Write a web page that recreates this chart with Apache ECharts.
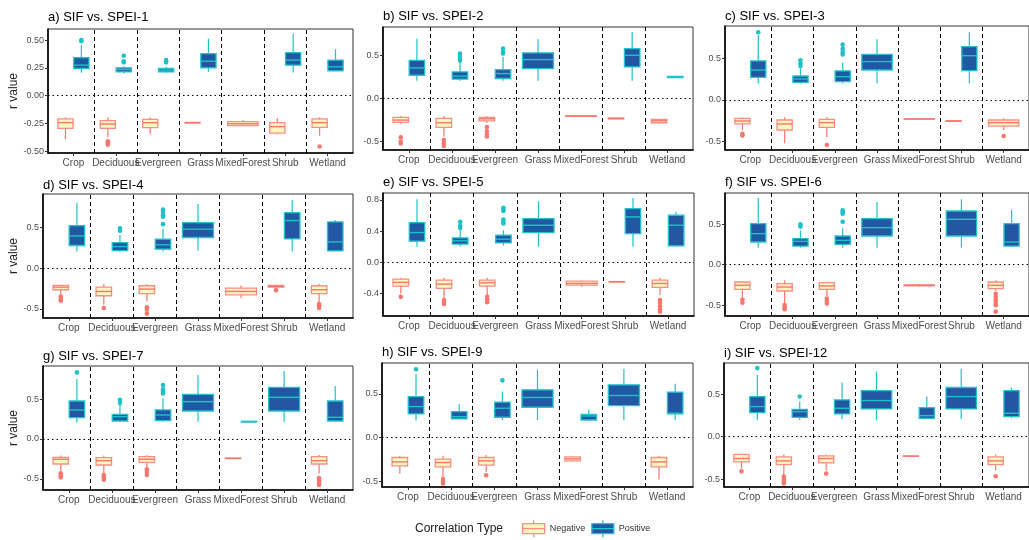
<!DOCTYPE html>
<html><head><meta charset="utf-8">
<script src="https://cdn.jsdelivr.net/npm/echarts@6/dist/echarts.min.js"></script>
<style>html,body{margin:0;padding:0;background:#fff}#c{width:1029px;height:540px}</style>
</head><body><div id="c"></div><script>
// ---------------- DATA ----------------
const categories = ['Crop','Deciduous','Evergreen','Grass','MixedForest','Shrub','Wetland'];
const panelTitles = ['a) SIF vs. SPEI-1','b) SIF vs. SPEI-2','c) SIF vs. SPEI-3','d) SIF vs. SPEI-4','e) SIF vs. SPEI-5','f) SIF vs. SPEI-6','g) SIF vs. SPEI-7','h) SIF vs. SPEI-9','i) SIF vs. SPEI-12'];
const groupNames = ['Negative','Positive'];
const yTickValues = [
  [-0.5,-0.25,0,0.25,0.5],[-0.5,0,0.5],[-0.5,0,0.5],
  [-0.5,0,0.5],[-0.4,0,0.4,0.8],[-0.5,0,0.5],
  [-0.5,0,0.5],[-0.5,0,0.5],[-0.5,0,0.5]
];
const yTickDecimals = [2,1,1,1,1,1,1,1,1];
const yLimits = [
  [-0.515,0.6],[-0.596,0.827],[-0.605,0.895],
  [-0.612,0.91],[-0.685,0.889],[-0.634,0.885],
  [-0.638,0.913],[-0.561,0.851],[-0.593,0.87]
];
// box stats per category: [lowWhisker, Q1, median, Q3, highWhisker]
const spei1Neg = [[-0.391,-0.293,-0.242,-0.209,-0.194],[-0.373,-0.293,-0.254,-0.224,-0.194],[-0.346,-0.287,-0.242,-0.212,-0.194],[-0.245,-0.245,-0.242,-0.24,-0.24],[-0.272,-0.268,-0.252,-0.232,-0.218],[-0.352,-0.337,-0.278,-0.242,-0.203],[-0.361,-0.284,-0.242,-0.209,-0.194]];
const spei1Pos = [[0.206,0.245,0.275,0.343,0.454],[0.2,0.215,0.236,0.251,0.265],[0.206,0.215,0.23,0.245,0.26],[0.215,0.251,0.31,0.379,0.514],null,[0.209,0.275,0.32,0.388,0.559],[0.224,0.224,0.26,0.32,0.418]];
const spei1NegOut = [[],[-0.41,-0.43,-0.44],[],[],[],[],[-0.457]];
const spei1PosOut = [[0.49,0.5],[0.36,0.31,0.3],[0.32,0.31,0.3],[],[],[],[]];

const spei2Neg = [[-0.296,-0.277,-0.25,-0.219,-0.204],[-0.442,-0.335,-0.281,-0.231,-0.2],[-0.28,-0.258,-0.235,-0.219,-0.204],null,[-0.21,-0.207,-0.204,-0.202,-0.2],[-0.24,-0.236,-0.231,-0.227,-0.224],[-0.296,-0.281,-0.258,-0.242,-0.236]];
const spei2Pos = [[0.204,0.269,0.354,0.442,0.692],[0.204,0.223,0.258,0.308,0.423],[0.204,0.231,0.288,0.335,0.481],[0.204,0.346,0.45,0.527,0.685],null,[0.204,0.365,0.5,0.577,0.769],[0.235,0.242,0.25,0.256,0.26]];
const spei2NegOut = [[-0.45,-0.5,-0.52],[-0.48,-0.52,-0.55],[-0.33,-0.38,-0.42,-0.44],[],[],[],[]];
const spei2PosOut = [[],[0.52,0.49,0.46,0.44],[0.577,0.54,0.52],[],[],[],[]];

const spei3Neg = [[-0.363,-0.29,-0.254,-0.222,-0.21],[-0.524,-0.363,-0.29,-0.242,-0.21],[-0.452,-0.331,-0.274,-0.234,-0.21],null,[-0.234,-0.232,-0.23,-0.228,-0.226],[-0.262,-0.258,-0.254,-0.25,-0.246],[-0.363,-0.315,-0.274,-0.242,-0.222]];
const spei3Pos = [[0.2,0.274,0.363,0.472,0.786],[0.2,0.214,0.254,0.29,0.383],[0.2,0.222,0.282,0.351,0.452],[0.2,0.363,0.464,0.552,0.734],null,[0.2,0.355,0.536,0.645,0.819],null];
const spei3NegOut = [[-0.41,-0.43],[],[-0.544],[],[],[],[-0.435]];
const spei3PosOut = [[0.82],[0.48,0.44,0.41],[0.67,0.62,0.58,0.55],[],[],[],[]];

const spei4Neg = [[-0.327,-0.265,-0.233,-0.212,-0.204],[-0.449,-0.339,-0.286,-0.233,-0.196],[-0.408,-0.314,-0.257,-0.216,-0.196],null,[-0.367,-0.327,-0.286,-0.245,-0.212],[-0.24,-0.233,-0.224,-0.212,-0.208],[-0.43,-0.314,-0.265,-0.216,-0.196]];
const spei4Pos = [[0.204,0.278,0.396,0.522,0.804],[0.204,0.216,0.265,0.314,0.408],[0.204,0.233,0.286,0.355,0.482],[0.216,0.376,0.478,0.559,0.788],null,[0.204,0.359,0.584,0.682,0.837],[0.21,0.212,0.322,0.567,0.592]];
const spei4NegOut = [[-0.35,-0.38,-0.4],[-0.49],[-0.48,-0.51,-0.56],[],[],[-0.27],[-0.44,-0.46,-0.49]];
const spei4PosOut = [[],[0.49,0.46],[0.72,0.69,0.65,0.63,0.54],[],[],[],[]];

const spei5Neg = [[-0.396,-0.302,-0.255,-0.213,-0.196],[-0.46,-0.332,-0.277,-0.226,-0.196],[-0.417,-0.302,-0.26,-0.226,-0.196],null,[-0.31,-0.289,-0.268,-0.238,-0.234],[-0.252,-0.25,-0.247,-0.244,-0.242],[-0.417,-0.319,-0.268,-0.226,-0.196]];
const spei5Pos = [[0.2,0.272,0.383,0.511,0.809],[0.2,0.234,0.277,0.315,0.413],[0.217,0.251,0.298,0.349,0.413],[0.2,0.383,0.477,0.562,0.783],null,[0.2,0.37,0.583,0.689,0.826],[0.2,0.213,0.477,0.604,0.647]];
const spei5NegOut = [[-0.44],[-0.48,-0.51,-0.53],[-0.44,-0.47,-0.51],[],[],[],[-0.48,-0.52,-0.56,-0.6,-0.63]];
const spei5PosOut = [[],[0.52,0.47,0.44],[0.7,0.68,0.66,0.55,0.52,0.5],[],[],[],[]];

const spei6Neg = [[-0.4,-0.305,-0.255,-0.214,-0.206],[-0.481,-0.325,-0.276,-0.235,-0.193],[-0.391,-0.305,-0.263,-0.222,-0.206],null,[-0.27,-0.262,-0.255,-0.25,-0.24],null,[-0.325,-0.296,-0.255,-0.214,-0.193]];
const spei6Pos = [[0.21,0.28,0.383,0.506,0.823],[0.21,0.23,0.288,0.321,0.424],[0.21,0.251,0.3,0.354,0.453],[0.21,0.354,0.457,0.568,0.774],null,[0.21,0.354,0.56,0.663,0.807],[0.218,0.23,0.28,0.506,0.679]];
const spei6NegOut = [[-0.43,-0.47],[-0.5,-0.53,-0.55],[-0.42,-0.45,-0.48],[],[],[],[-0.36,-0.4,-0.44,-0.47,-0.5,-0.58]];
const spei6PosOut = [[],[0.5,0.47],[0.67,0.65,0.63,0.53],[],[],[],[]];

const spei7Neg = [[-0.408,-0.313,-0.254,-0.229,-0.208],[-0.429,-0.325,-0.271,-0.233,-0.208],[-0.367,-0.292,-0.254,-0.221,-0.2],null,[-0.248,-0.245,-0.242,-0.239,-0.236],null,[-0.429,-0.313,-0.271,-0.221,-0.2]];
const spei7Pos = [[0.204,0.267,0.363,0.475,0.75],[0.217,0.225,0.279,0.308,0.425],[0.217,0.229,0.3,0.363,0.508],[0.217,0.35,0.467,0.558,0.8],[0.21,0.213,0.217,0.221,0.224],[0.217,0.35,0.521,0.646,0.85],[0.217,0.225,0.271,0.475,0.663]];
const spei7NegOut = [[-0.43,-0.46,-0.48],[-0.45,-0.48,-0.51],[-0.38,-0.41,-0.45],[],[],[],[-0.49,-0.52,-0.55,-0.575]];
const spei7PosOut = [[0.833],[0.49,0.45],[0.675,0.62,0.6,0.57],[],[],[],[]];

const spei9Neg = [[-0.408,-0.321,-0.275,-0.225,-0.206],[-0.447,-0.332,-0.282,-0.244,-0.206],[-0.389,-0.313,-0.263,-0.225,-0.198],null,[-0.275,-0.263,-0.24,-0.218,-0.212],null,[-0.477,-0.332,-0.275,-0.225,-0.206]];
const spei9Pos = [[0.195,0.271,0.355,0.469,0.725],[0.214,0.214,0.24,0.298,0.385],[0.202,0.233,0.336,0.405,0.527],[0.202,0.347,0.458,0.546,0.775],[0.202,0.202,0.248,0.267,0.324],[0.202,0.366,0.481,0.603,0.786],[0.202,0.271,0.28,0.519,0.615]];
const spei9NegOut = [[],[-0.47,-0.5,-0.52],[-0.427],[],[],[],[]];
const spei9PosOut = [[0.78],[],[0.653],[],[],[],[]];

const spei12Neg = [[-0.375,-0.296,-0.257,-0.209,-0.198],[-0.455,-0.328,-0.285,-0.237,-0.209],[-0.395,-0.308,-0.257,-0.225,-0.209],null,[-0.232,-0.231,-0.229,-0.227,-0.226],null,[-0.395,-0.328,-0.285,-0.237,-0.209]];
const spei12Pos = [[0.198,0.285,0.356,0.474,0.731],[0.198,0.229,0.296,0.324,0.415],[0.209,0.269,0.336,0.435,0.64],[0.198,0.328,0.427,0.545,0.771],[0.209,0.217,0.249,0.344,0.474],[0.209,0.328,0.474,0.581,0.802],[0.217,0.237,0.277,0.545,0.581]];
const spei12NegOut = [[-0.407],[-0.47,-0.5,-0.53,-0.55],[-0.435],[],[],[],[-0.466]];
const spei12PosOut = [[0.81],[0.474],[],[],[],[],[]];

const negStats = [spei1Neg,spei2Neg,spei3Neg,spei4Neg,spei5Neg,spei6Neg,spei7Neg,spei9Neg,spei12Neg];
const posStats = [spei1Pos,spei2Pos,spei3Pos,spei4Pos,spei5Pos,spei6Pos,spei7Pos,spei9Pos,spei12Pos];
const negOuts = [spei1NegOut,spei2NegOut,spei3NegOut,spei4NegOut,spei5NegOut,spei6NegOut,spei7NegOut,spei9NegOut,spei12NegOut];
const posOuts = [spei1PosOut,spei2PosOut,spei3PosOut,spei4PosOut,spei5PosOut,spei6PosOut,spei7PosOut,spei9PosOut,spei12PosOut];

// ---------------- LAYOUT / STYLE ----------------
const gridBoxes = [
  [48,29,305,124],[383,27,310,123],[725,26,310,124],
  [43,194,310,124],[383,193,311,123],[725,193,310,123],
  [43,366,310,124],[382,363,311,124],[724,363,311,124]
];
const titleTops = [11,9.5,10,178.5,176,176,349.5,346,346.5];
const NEG_FILL = '#FFF5C2', NEG_LINE = '#F8766D', NEG_BORDER = '#F98E85';
const POS_FILL = '#2257A4', POS_LINE = '#1CC2C8', POS_BORDER = '#22C4CA';
const FONT = 'Liberation Sans, Arial, sans-serif';

function fmt(v, d){ let s = v.toFixed(d); if (/^-0\.0+$/.test(s)) s = s.slice(1); return s; }

function makeRender(p, g) {
  const other = g === 0 ? posStats[p] : negStats[p];
  const outs = g === 0 ? negOuts[p] : posOuts[p];
  const line = g === 0 ? NEG_LINE : POS_LINE;
  const border = g === 0 ? NEG_BORDER : POS_BORDER;
  const fill = g === 0 ? NEG_FILL : POS_FILL;
  return function (params, api) {
    const ci = api.value(0);
    const dodged = other[ci] != null;
    const cx = dodged ? ci + (g === 0 ? -0.1875 : 0.1875) : ci;
    const hw = dodged ? 0.18 : 0.36;
    const xL = api.coord([cx - hw, 0])[0];
    const xR = api.coord([cx + hw, 0])[0];
    const xc = api.coord([cx, 0])[0];
    const yLo = api.coord([cx, api.value(1)])[1];
    const yQ1 = api.coord([cx, api.value(2)])[1];
    const yMed = api.coord([cx, api.value(3)])[1];
    const yQ3 = api.coord([cx, api.value(4)])[1];
    const yHi = api.coord([cx, api.value(5)])[1];
    const children = [
      {type:'line', shape:{x1:xc,y1:yQ3,x2:xc,y2:yHi}, style:{stroke:line,lineWidth:1.2}},
      {type:'line', shape:{x1:xc,y1:yQ1,x2:xc,y2:yLo}, style:{stroke:line,lineWidth:1.2}},
      {type:'rect', shape:{x:xL,y:yQ3,width:xR-xL,height:Math.max(yQ1-yQ3,0)}, style:{fill:fill,stroke:border,lineWidth:1.3}},
      {type:'line', shape:{x1:xL,y1:yMed,x2:xR,y2:yMed}, style:{stroke:line,lineWidth:1.4}}
    ];
    (outs[ci] || []).forEach(function (v) {
      const pt = api.coord([cx, v]);
      children.push({type:'circle', shape:{cx:pt[0], cy:pt[1], r:2.3}, style:{fill:line}});
    });
    return {type:'group', children: children};
  };
}

const grids = [], xAxes = [], yAxes = [], series = [], titles = [];
const catIdx = categories.map((c, i) => i);
const sepValues = categories.slice(1).map((c, i) => i + 0.5);

for (let p = 0; p < 9; p++) {
  const b = gridBoxes[p];
  grids.push({left:b[0], top:b[1], width:b[2], height:b[3], show:true, borderColor:'#333', borderWidth:1, containLabel:false});
  titles.push({text:panelTitles[p], left:b[0], top:titleTops[p], padding:0, textStyle:{fontSize:13, fontWeight:'normal', color:'#000', fontFamily:FONT}});
  xAxes.push({
    type:'value', gridIndex:p, min:-0.6, max:categories.length - 0.4,
    axisLine:{show:true, onZero:false, lineStyle:{color:'#000', width:1.6}},
    axisTick:{show:true, customValues:catIdx, length:3, lineStyle:{color:'#333'}},
    axisLabel:{customValues:catIdx, formatter:v => categories[Math.round(v)], fontSize:10, color:'#4D4D4D', margin:5, fontFamily:FONT},
    splitLine:{show:false}
  });
  const d = yTickDecimals[p];
  yAxes.push({
    type:'value', gridIndex:p, min:yLimits[p][0], max:yLimits[p][1],
    name:(p % 3 === 0) ? 'r value' : '', nameLocation:'middle', nameGap:(p === 0 ? 26 : 21),
    nameTextStyle:{fontSize:12, color:'#222', fontFamily:FONT},
    axisLine:{show:true, onZero:false, lineStyle:{color:'#000', width:1.6}},
    axisTick:{show:true, customValues:yTickValues[p], length:3, lineStyle:{color:'#333'}},
    axisLabel:{customValues:yTickValues[p], formatter:v => fmt(v, d), fontSize:9, color:'#4D4D4D', margin:4, fontFamily:FONT},
    splitLine:{show:false}
  });
  [0, 1].forEach(function (g) {
    const stats = g === 0 ? negStats[p] : posStats[p];
    const data = [];
    stats.forEach(function (s, i) { if (s) data.push([i].concat(s)); });
    const s = {
      name: groupNames[g], type:'custom', xAxisIndex:p, yAxisIndex:p,
      renderItem: makeRender(p, g), data: data,
      encode:{x:0, y:[1,2,3,4,5]},
      itemStyle:{color: g === 0 ? NEG_FILL : POS_FILL, borderColor: g === 0 ? NEG_BORDER : POS_BORDER},
      silent:true, animation:false, z: 3
    };
    if (g === 0) {
      s.markLine = {
        silent:true, symbol:'none', label:{show:false}, animation:false,
        data: sepValues.map(v => ({xAxis:v, lineStyle:{type:[4,3], color:'#000', width:1}}))
              .concat([{yAxis:0, lineStyle:{type:[1.5,3], color:'#000', width:1}}])
      };
    }
    series.push(s);
  });
}
titles.push({text:'Correlation Type', left:415, top:523, padding:0, textStyle:{fontSize:12, fontWeight:'normal', color:'#222', fontFamily:FONT}});

const boxIcon = 'path://M0,3.5H22V13.5H0Z M0,8.5H22 M11,0V3.5 M11,13.5V17';
const chart = echarts.init(document.getElementById('c'), null, {renderer:'canvas'});
chart.setOption({
  animation:false,
  backgroundColor:'#fff',
  title: titles,
  grid: grids, xAxis: xAxes, yAxis: yAxes, series: series,
  legend: {
    left:522, top:519.5, padding:0, itemWidth:22, itemHeight:17, itemGap:6, selectedMode:false,
    textStyle:{fontSize:9, color:'#333', fontFamily:FONT},
    data:[
      {name:'Negative', icon:boxIcon, itemStyle:{color:NEG_FILL, borderColor:NEG_BORDER, borderWidth:1.3}},
      {name:'Positive', icon:boxIcon, itemStyle:{color:POS_FILL, borderColor:POS_BORDER, borderWidth:1.3}}
    ]
  }
});
</script></body></html>
